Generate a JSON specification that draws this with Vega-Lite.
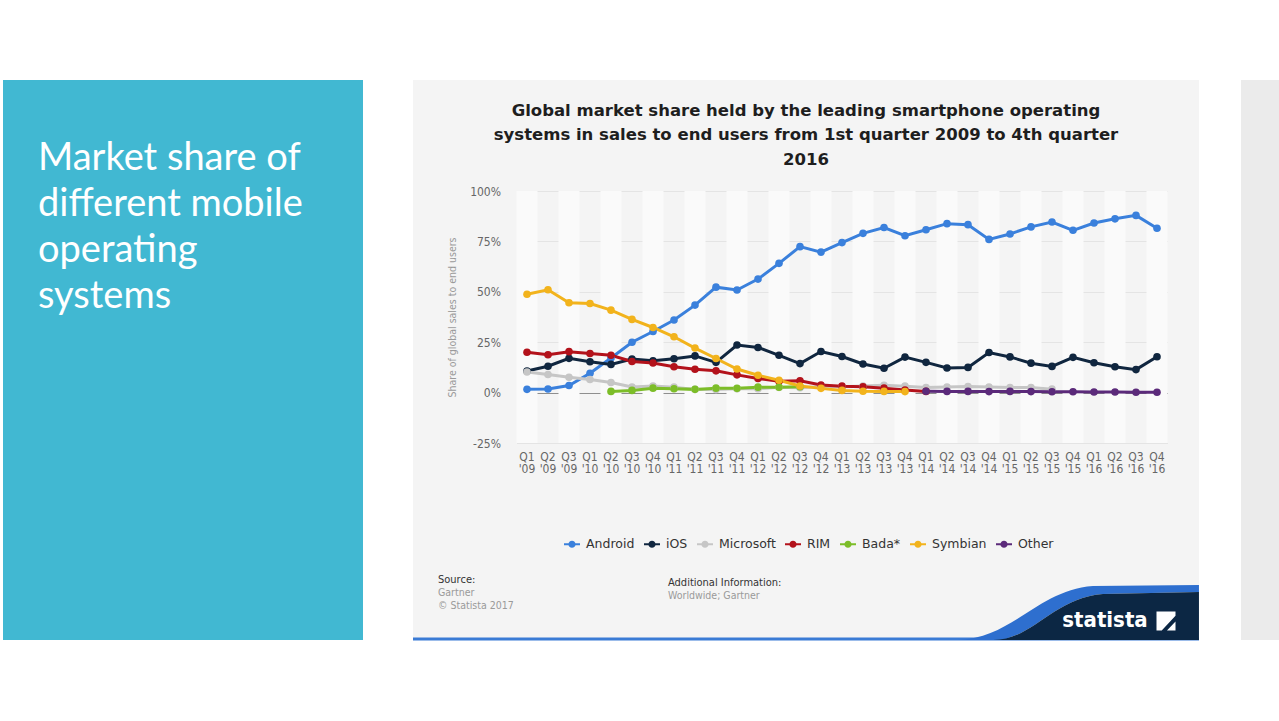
{
  "$schema": "https://vega.github.io/schema/vega-lite/v6.json",
  "background": "white",
  "padding": {"left": 3, "top": 80, "right": 0, "bottom": 0},
  "config": {"view": {"stroke": null}},
  "datasets": {
    "share": [
      {"q": "Q1 '09", "os": "Android", "v": 1.6}, {"q": "Q2 '09", "os": "Android", "v": 1.8}, {"q": "Q3 '09", "os": "Android", "v": 3.5},
      {"q": "Q1 '10", "os": "Android", "v": 9.6}, {"q": "Q2 '10", "os": "Android", "v": 17.2}, {"q": "Q3 '10", "os": "Android", "v": 25.0}, {"q": "Q4 '10", "os": "Android", "v": 30.3},
      {"q": "Q1 '11", "os": "Android", "v": 36.0}, {"q": "Q2 '11", "os": "Android", "v": 43.4}, {"q": "Q3 '11", "os": "Android", "v": 52.3}, {"q": "Q4 '11", "os": "Android", "v": 50.9},
      {"q": "Q1 '12", "os": "Android", "v": 56.3}, {"q": "Q2 '12", "os": "Android", "v": 64.1}, {"q": "Q3 '12", "os": "Android", "v": 72.4}, {"q": "Q4 '12", "os": "Android", "v": 69.7},
      {"q": "Q1 '13", "os": "Android", "v": 74.4}, {"q": "Q2 '13", "os": "Android", "v": 79.0}, {"q": "Q3 '13", "os": "Android", "v": 81.9}, {"q": "Q4 '13", "os": "Android", "v": 77.8},
      {"q": "Q1 '14", "os": "Android", "v": 80.8}, {"q": "Q2 '14", "os": "Android", "v": 83.8}, {"q": "Q3 '14", "os": "Android", "v": 83.3}, {"q": "Q4 '14", "os": "Android", "v": 76.0},
      {"q": "Q1 '15", "os": "Android", "v": 78.7}, {"q": "Q2 '15", "os": "Android", "v": 82.2}, {"q": "Q3 '15", "os": "Android", "v": 84.6}, {"q": "Q4 '15", "os": "Android", "v": 80.5},
      {"q": "Q1 '16", "os": "Android", "v": 84.1}, {"q": "Q2 '16", "os": "Android", "v": 86.2}, {"q": "Q3 '16", "os": "Android", "v": 87.9}, {"q": "Q4 '16", "os": "Android", "v": 81.5},

      {"q": "Q1 '09", "os": "iOS", "v": 10.7}, {"q": "Q2 '09", "os": "iOS", "v": 13.1}, {"q": "Q3 '09", "os": "iOS", "v": 17.0},
      {"q": "Q1 '10", "os": "iOS", "v": 15.3}, {"q": "Q2 '10", "os": "iOS", "v": 14.0}, {"q": "Q3 '10", "os": "iOS", "v": 16.6}, {"q": "Q4 '10", "os": "iOS", "v": 15.8},
      {"q": "Q1 '11", "os": "iOS", "v": 16.8}, {"q": "Q2 '11", "os": "iOS", "v": 18.2}, {"q": "Q3 '11", "os": "iOS", "v": 15.0}, {"q": "Q4 '11", "os": "iOS", "v": 23.6},
      {"q": "Q1 '12", "os": "iOS", "v": 22.4}, {"q": "Q2 '12", "os": "iOS", "v": 18.5}, {"q": "Q3 '12", "os": "iOS", "v": 14.4}, {"q": "Q4 '12", "os": "iOS", "v": 20.4},
      {"q": "Q1 '13", "os": "iOS", "v": 17.9}, {"q": "Q2 '13", "os": "iOS", "v": 14.2}, {"q": "Q3 '13", "os": "iOS", "v": 12.1}, {"q": "Q4 '13", "os": "iOS", "v": 17.6},
      {"q": "Q1 '14", "os": "iOS", "v": 15.0}, {"q": "Q2 '14", "os": "iOS", "v": 12.2}, {"q": "Q3 '14", "os": "iOS", "v": 12.5}, {"q": "Q4 '14", "os": "iOS", "v": 19.9},
      {"q": "Q1 '15", "os": "iOS", "v": 17.7}, {"q": "Q2 '15", "os": "iOS", "v": 14.6}, {"q": "Q3 '15", "os": "iOS", "v": 13.0}, {"q": "Q4 '15", "os": "iOS", "v": 17.5},
      {"q": "Q1 '16", "os": "iOS", "v": 14.8}, {"q": "Q2 '16", "os": "iOS", "v": 12.8}, {"q": "Q3 '16", "os": "iOS", "v": 11.4}, {"q": "Q4 '16", "os": "iOS", "v": 17.8},

      {"q": "Q1 '09", "os": "Microsoft", "v": 10.2}, {"q": "Q2 '09", "os": "Microsoft", "v": 9.0}, {"q": "Q3 '09", "os": "Microsoft", "v": 7.6},
      {"q": "Q1 '10", "os": "Microsoft", "v": 6.5}, {"q": "Q2 '10", "os": "Microsoft", "v": 5.0}, {"q": "Q3 '10", "os": "Microsoft", "v": 2.8}, {"q": "Q4 '10", "os": "Microsoft", "v": 3.3},
      {"q": "Q1 '11", "os": "Microsoft", "v": 2.7}, {"q": "Q2 '11", "os": "Microsoft", "v": 1.6}, {"q": "Q3 '11", "os": "Microsoft", "v": 1.5}, {"q": "Q4 '11", "os": "Microsoft", "v": 1.9},
      {"q": "Q1 '12", "os": "Microsoft", "v": 1.9}, {"q": "Q2 '12", "os": "Microsoft", "v": 2.6}, {"q": "Q3 '12", "os": "Microsoft", "v": 2.4}, {"q": "Q4 '12", "os": "Microsoft", "v": 3.0},
      {"q": "Q1 '13", "os": "Microsoft", "v": 2.9}, {"q": "Q2 '13", "os": "Microsoft", "v": 3.3}, {"q": "Q3 '13", "os": "Microsoft", "v": 3.6}, {"q": "Q4 '13", "os": "Microsoft", "v": 3.2},
      {"q": "Q1 '14", "os": "Microsoft", "v": 2.5}, {"q": "Q2 '14", "os": "Microsoft", "v": 2.8}, {"q": "Q3 '14", "os": "Microsoft", "v": 3.0}, {"q": "Q4 '14", "os": "Microsoft", "v": 2.8},
      {"q": "Q1 '15", "os": "Microsoft", "v": 2.5}, {"q": "Q2 '15", "os": "Microsoft", "v": 2.5}, {"q": "Q3 '15", "os": "Microsoft", "v": 1.7},

      {"q": "Q1 '09", "os": "RIM", "v": 20.0}, {"q": "Q2 '09", "os": "RIM", "v": 18.8}, {"q": "Q3 '09", "os": "RIM", "v": 20.3},
      {"q": "Q1 '10", "os": "RIM", "v": 19.4}, {"q": "Q2 '10", "os": "RIM", "v": 18.5}, {"q": "Q3 '10", "os": "RIM", "v": 15.4}, {"q": "Q4 '10", "os": "RIM", "v": 14.7},
      {"q": "Q1 '11", "os": "RIM", "v": 12.8}, {"q": "Q2 '11", "os": "RIM", "v": 11.6}, {"q": "Q3 '11", "os": "RIM", "v": 10.8}, {"q": "Q4 '11", "os": "RIM", "v": 8.8},
      {"q": "Q1 '12", "os": "RIM", "v": 7.0}, {"q": "Q2 '12", "os": "RIM", "v": 5.6}, {"q": "Q3 '12", "os": "RIM", "v": 5.9}, {"q": "Q4 '12", "os": "RIM", "v": 3.8},
      {"q": "Q1 '13", "os": "RIM", "v": 3.2}, {"q": "Q2 '13", "os": "RIM", "v": 2.9}, {"q": "Q3 '13", "os": "RIM", "v": 2.2}, {"q": "Q4 '13", "os": "RIM", "v": 1.3},
      {"q": "Q1 '14", "os": "RIM", "v": 0.6},

      {"q": "Q2 '10", "os": "Bada*", "v": 0.6}, {"q": "Q3 '10", "os": "Bada*", "v": 1.1}, {"q": "Q4 '10", "os": "Bada*", "v": 2.2},
      {"q": "Q1 '11", "os": "Bada*", "v": 1.9}, {"q": "Q2 '11", "os": "Bada*", "v": 1.6}, {"q": "Q3 '11", "os": "Bada*", "v": 2.2}, {"q": "Q4 '11", "os": "Bada*", "v": 2.1},
      {"q": "Q1 '12", "os": "Bada*", "v": 2.7}, {"q": "Q2 '12", "os": "Bada*", "v": 2.7}, {"q": "Q3 '12", "os": "Bada*", "v": 2.9},

      {"q": "Q1 '09", "os": "Symbian", "v": 48.8}, {"q": "Q2 '09", "os": "Symbian", "v": 51.0}, {"q": "Q3 '09", "os": "Symbian", "v": 44.6},
      {"q": "Q1 '10", "os": "Symbian", "v": 44.2}, {"q": "Q2 '10", "os": "Symbian", "v": 40.9}, {"q": "Q3 '10", "os": "Symbian", "v": 36.3}, {"q": "Q4 '10", "os": "Symbian", "v": 32.3},
      {"q": "Q1 '11", "os": "Symbian", "v": 27.7}, {"q": "Q2 '11", "os": "Symbian", "v": 22.1}, {"q": "Q3 '11", "os": "Symbian", "v": 16.9}, {"q": "Q4 '11", "os": "Symbian", "v": 11.7},
      {"q": "Q1 '12", "os": "Symbian", "v": 8.6}, {"q": "Q2 '12", "os": "Symbian", "v": 6.1}, {"q": "Q3 '12", "os": "Symbian", "v": 3.3}, {"q": "Q4 '12", "os": "Symbian", "v": 2.1},
      {"q": "Q1 '13", "os": "Symbian", "v": 1.1}, {"q": "Q2 '13", "os": "Symbian", "v": 0.7}, {"q": "Q3 '13", "os": "Symbian", "v": 0.6}, {"q": "Q4 '13", "os": "Symbian", "v": 0.5},

      {"q": "Q1 '14", "os": "Other", "v": 0.7}, {"q": "Q2 '14", "os": "Other", "v": 0.6}, {"q": "Q3 '14", "os": "Other", "v": 0.6}, {"q": "Q4 '14", "os": "Other", "v": 0.5},
      {"q": "Q1 '15", "os": "Other", "v": 0.6}, {"q": "Q2 '15", "os": "Other", "v": 0.5}, {"q": "Q3 '15", "os": "Other", "v": 0.4}, {"q": "Q4 '15", "os": "Other", "v": 0.4},
      {"q": "Q1 '16", "os": "Other", "v": 0.3}, {"q": "Q2 '16", "os": "Other", "v": 0.3}, {"q": "Q3 '16", "os": "Other", "v": 0.2}, {"q": "Q4 '16", "os": "Other", "v": 0.2}
    ]
  },
  "spacing": 48,
  "hconcat": [
    {
      "width": 360,
      "height": 560,
      "view": {"fill": "#41b8d2", "stroke": null},
      "title": {
        "text": ["Market share of", "different mobile", "operating", "systems"],
        "orient": "top", "anchor": "start", "frame": "group", "align": "left",
        "offset": -236, "dx": 35,
        "font": "Lato", "fontSize": 38, "fontWeight": "normal", "color": "white", "lineHeight": 46
      },
      "data": {"values": [{}]},
      "mark": {"type": "point", "opacity": 0}
    },
    {
      "spacing": 40,
      "hconcat": [
        {
          "width": 786,
          "height": 560,
          "view": {"fill": "#f4f4f4", "stroke": null},
          "title": {
            "text": ["Global market share held by the leading smartphone operating", "systems in sales to end users from 1st quarter 2009 to 4th quarter", "2016"],
            "orient": "top", "anchor": "middle", "frame": "group",
            "offset": -88,
            "font": "DejaVu Sans", "fontSize": 16.5, "fontWeight": "bold", "color": "#1e1e1e", "lineHeight": 24.5
          },
          "resolve": {"scale": {"x": "independent", "y": "independent"}, "axis": {"x": "independent", "y": "independent"}},
          "layer": [
            {
              "data": {"name": "share"},
              "encoding": {
                "x": {
                  "field": "q", "type": "ordinal",
                  "sort": ["Q1 '09","Q2 '09","Q3 '09","Q1 '10","Q2 '10","Q3 '10","Q4 '10","Q1 '11","Q2 '11","Q3 '11","Q4 '11","Q1 '12","Q2 '12","Q3 '12","Q4 '12","Q1 '13","Q2 '13","Q3 '13","Q4 '13","Q1 '14","Q2 '14","Q3 '14","Q4 '14","Q1 '15","Q2 '15","Q3 '15","Q4 '15","Q1 '16","Q2 '16","Q3 '16","Q4 '16"],
                  "scale": {"type": "band", "range": [103.5, 754.5], "paddingInner": 0, "paddingOuter": 0},
                  "title": null,
                  "axis": {
                    "orient": "bottom", "offset": -197, "domain": false, "ticks": false, "grid": false,
                    "labelPadding": 8, "labelAngle": 0, "labelExpr": "split(datum.value, ' ')",
                    "labelFont": "DejaVu Sans Condensed, DejaVu Sans", "labelFontSize": 12, "labelColor": "#666666",
                    "labelLineHeight": 12.5, "labelOverlap": false, "labelBound": false, "labelFlush": false
                  }
                },
                "y": {
                  "field": "v", "type": "quantitative",
                  "scale": {"domain": [-25, 100], "range": [363, 111], "nice": false, "zero": false},
                  "title": "Share of global sales to end users",
                  "axis": {
                    "orient": "left", "offset": -103.5, "values": [-25, 0, 25, 50, 75, 100],
                    "domain": false, "ticks": false, "labelPadding": 16,
                    "labelExpr": "datum.value + '%'",
                    "labelFont": "DejaVu Sans Condensed, DejaVu Sans", "labelFontSize": 12, "labelColor": "#666666",
                    "grid": true, "gridWidth": 1,
                    "gridColor": {"condition": {"test": "datum.value === 0", "value": "#8e8e8e"}, "value": "#e4e4e4"},
                    "titleFont": "DejaVu Sans Condensed, DejaVu Sans", "titleFontSize": 10.5, "titleFontWeight": "normal",
                    "titleColor": "#9a9a9a", "titlePadding": 12
                  }
                }
              },
              "layer": [
                {
                  "transform": [
                    {"filter": "datum.os === 'Android'"},
                    {"window": [{"op": "row_number", "as": "idx"}]},
                    {"filter": "datum.idx % 2 === 1"}
                  ],
                  "mark": {"type": "rect", "color": "#fafafa"},
                  "encoding": {
                    "y": {"datum": 100, "type": "quantitative", "title": "Share of global sales to end users"},
                    "y2": {"datum": -25}
                  }
                },
                {
                  "mark": {"type": "line", "strokeWidth": 3},
                  "encoding": {
                    "color": {
                      "field": "os", "type": "nominal",
                      "scale": {
                        "domain": ["Android", "iOS", "Microsoft", "RIM", "Bada*", "Symbian", "Other"],
                        "range": ["#3a80dc", "#10263f", "#c6c6c6", "#b3121b", "#7cbd28", "#f2b31c", "#5b2a7a"]
                      },
                      "legend": {
                        "title": null, "orient": "none", "legendX": 561, "legendY": 456, "direction": "horizontal",
                        "symbolType": "M-1,-0.13L1,-0.13L1,0.13L-1,0.13Z M0.45,0A0.45,0.45 0 1 1 -0.45,0A0.45,0.45 0 1 1 0.45,0Z",
                        "symbolSize": 256, "symbolStrokeWidth": 0, "symbolOpacity": 1,
                        "labelFont": "DejaVu Sans", "labelFontSize": 12.5, "labelColor": "#333333",
                        "labelOffset": 6, "columnPadding": 9,
                        "encode": {"symbols": {"update": {"fill": {"scale": "color", "field": "value"}, "strokeWidth": {"value": 0}}}}
                      }
                    }
                  }
                },
                {
                  "mark": {"type": "point", "filled": true, "size": 58, "opacity": 1},
                  "encoding": {
                    "color": {"field": "os", "type": "nominal"}
                  }
                }
              ]
            },
            {
              "data": {"values": [{}]},
              "layer": [
                {
                  "mark": {"type": "rule", "color": "#3a7bd5", "strokeWidth": 3},
                  "encoding": {
                    "x": {"datum": 0, "type": "quantitative", "scale": {"domain": [0, 786], "nice": false, "zero": false}, "axis": null},
                    "x2": {"datum": 786},
                    "y": {"datum": 559, "type": "quantitative", "scale": {"domain": [0, 560], "reverse": true, "nice": false, "zero": false}, "axis": null}
                  }
                },
                {
                  "mark": {"type": "point", "filled": true, "opacity": 1, "color": "#2e6fcf", "size": 57600,
                    "shape": "M-1.15,0.2C-0.692,0.183 -0.483,-0.217 -0.025,-0.25L0.858,-0.258L0.858,-0.2L0.058,-0.183C-0.358,-0.15 -0.525,0.2 -0.858,0.2Z"},
                  "encoding": {
                    "x": {"datum": 683, "type": "quantitative", "scale": {"domain": [0, 786], "nice": false, "zero": false}, "axis": null},
                    "y": {"datum": 536, "type": "quantitative", "scale": {"domain": [0, 560], "reverse": true, "nice": false, "zero": false}, "axis": null}
                  }
                },
                {
                  "mark": {"type": "point", "filled": true, "opacity": 1, "color": "#0c2744", "size": 57600,
                    "shape": "M-0.858,0.2C-0.525,0.2 -0.358,-0.15 0.058,-0.183L0.858,-0.2L0.858,0.2Z"},
                  "encoding": {
                    "x": {"datum": 683, "type": "quantitative", "scale": {"domain": [0, 786], "nice": false, "zero": false}, "axis": null},
                    "y": {"datum": 536, "type": "quantitative", "scale": {"domain": [0, 560], "reverse": true, "nice": false, "zero": false}, "axis": null}
                  }
                },
                {
                  "mark": {"type": "point", "filled": true, "opacity": 1, "color": "white", "size": 361,
                    "shape": "M-1,-1L1,-1L1,-0.55L-0.45,1L-1,1Z M1,0.05L1,1L0.1,1Z"},
                  "encoding": {
                    "x": {"datum": 753, "type": "quantitative", "scale": {"domain": [0, 786], "nice": false, "zero": false}, "axis": null},
                    "y": {"datum": 541, "type": "quantitative", "scale": {"domain": [0, 560], "reverse": true, "nice": false, "zero": false}, "axis": null}
                  }
                },
                {
                  "mark": {"type": "text", "text": "statista", "font": "DejaVu Sans Condensed, DejaVu Sans", "fontWeight": "bold", "fontSize": 22, "color": "white", "align": "center", "baseline": "middle"},
                  "encoding": {
                    "x": {"datum": 692, "type": "quantitative", "scale": {"domain": [0, 786], "nice": false, "zero": false}, "axis": null},
                    "y": {"datum": 540, "type": "quantitative", "scale": {"domain": [0, 560], "reverse": true, "nice": false, "zero": false}, "axis": null}
                  }
                },
                {
                  "mark": {"type": "text", "text": "Source:", "font": "DejaVu Sans Condensed, DejaVu Sans", "fontSize": 11, "color": "#333333", "align": "left", "baseline": "middle"},
                  "encoding": {
                    "x": {"datum": 25, "type": "quantitative", "scale": {"domain": [0, 786], "nice": false, "zero": false}, "axis": null},
                    "y": {"datum": 500, "type": "quantitative", "scale": {"domain": [0, 560], "reverse": true, "nice": false, "zero": false}, "axis": null}
                  }
                },
                {
                  "mark": {"type": "text", "text": "Gartner", "font": "DejaVu Sans Condensed, DejaVu Sans", "fontSize": 10.5, "color": "#9a9a9a", "align": "left", "baseline": "middle"},
                  "encoding": {
                    "x": {"datum": 25, "type": "quantitative", "scale": {"domain": [0, 786], "nice": false, "zero": false}, "axis": null},
                    "y": {"datum": 513, "type": "quantitative", "scale": {"domain": [0, 560], "reverse": true, "nice": false, "zero": false}, "axis": null}
                  }
                },
                {
                  "mark": {"type": "text", "text": "© Statista 2017", "font": "DejaVu Sans Condensed, DejaVu Sans", "fontSize": 10.5, "color": "#9a9a9a", "align": "left", "baseline": "middle"},
                  "encoding": {
                    "x": {"datum": 25, "type": "quantitative", "scale": {"domain": [0, 786], "nice": false, "zero": false}, "axis": null},
                    "y": {"datum": 526, "type": "quantitative", "scale": {"domain": [0, 560], "reverse": true, "nice": false, "zero": false}, "axis": null}
                  }
                },
                {
                  "mark": {"type": "text", "text": "Additional Information:", "font": "DejaVu Sans Condensed, DejaVu Sans", "fontSize": 11, "color": "#333333", "align": "left", "baseline": "middle"},
                  "encoding": {
                    "x": {"datum": 255, "type": "quantitative", "scale": {"domain": [0, 786], "nice": false, "zero": false}, "axis": null},
                    "y": {"datum": 503, "type": "quantitative", "scale": {"domain": [0, 560], "reverse": true, "nice": false, "zero": false}, "axis": null}
                  }
                },
                {
                  "mark": {"type": "text", "text": "Worldwide; Gartner", "font": "DejaVu Sans Condensed, DejaVu Sans", "fontSize": 10.5, "color": "#9a9a9a", "align": "left", "baseline": "middle"},
                  "encoding": {
                    "x": {"datum": 255, "type": "quantitative", "scale": {"domain": [0, 786], "nice": false, "zero": false}, "axis": null},
                    "y": {"datum": 516, "type": "quantitative", "scale": {"domain": [0, 560], "reverse": true, "nice": false, "zero": false}, "axis": null}
                  }
                }
              ]
            }
          ]
        },
        {
          "width": 40,
          "height": 560,
          "view": {"fill": "#ebebeb", "stroke": null},
          "data": {"values": [{}]},
          "mark": {"type": "point", "opacity": 0}
        }
      ]
    }
  ]
}
